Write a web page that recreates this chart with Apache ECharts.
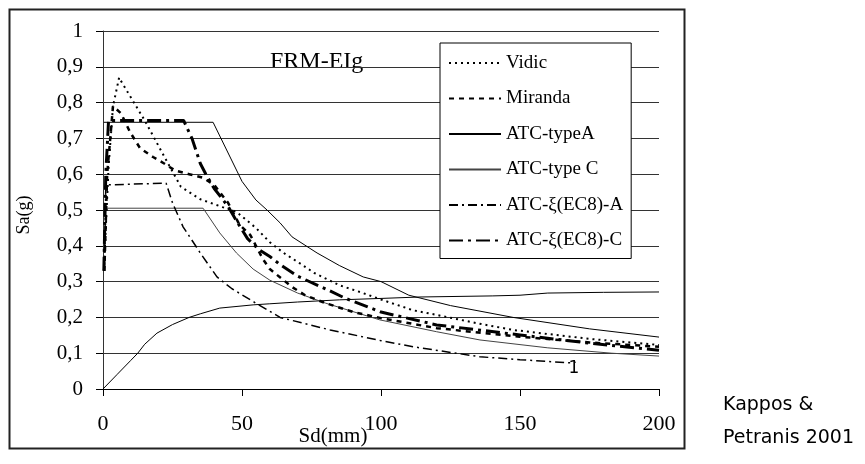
<!DOCTYPE html>
<html><head><meta charset="utf-8">
<script src="https://cdn.jsdelivr.net/npm/echarts@6/dist/echarts.min.js"></script>
<style>html,body{margin:0;padding:0;background:#fff}#c{width:865px;height:464px}</style>
</head><body><div id="c"></div>
<script>
// ---- data (Sd in mm, Sa in g) ----
const xTickValues = [0, 50, 100, 150, 200];
const yTickValues = [0, 0.1, 0.2, 0.3, 0.4, 0.5, 0.6, 0.7, 0.8, 0.9, 1];
const seriesNames = ['Vidic', 'Miranda', 'ATC-typeA', 'ATC-type C', 'ATC-ξ(EC8)-A', 'ATC-ξ(EC8)-C'];

const vidic = [[0.3,0.33],[2,0.62],[3.6,0.79],[5.8,0.87],[6.5,0.86],[15,0.75],[22,0.65],[28,0.565],[35,0.53],[43,0.508],[48,0.495],
  [55,0.45],[60,0.41],[65,0.38],[71,0.35],[76,0.324],[85,0.29],[93.5,0.268],[100,0.25],[111.5,0.22],[120,0.207],[135,0.183],[147.5,0.165],[175,0.14],[200,0.123]];
const miranda = [[0.5,0.33],[1.5,0.6],[3.6,0.79],[6.5,0.77],[9.7,0.718],[13.3,0.673],[18,0.648],[22,0.63],[26,0.61],[31,0.6],[36,0.59],
  [40,0.57],[45,0.52],[49,0.46],[53,0.43],[57.5,0.363],[60,0.335],[64,0.31],[68,0.285],[72.7,0.262],[80,0.24],[90,0.215],[100,0.198],[120,0.17],[150,0.146],[175,0.13],[200,0.118]];
const atcTypeA = [[0.3,0.745],[39.6,0.745],[50,0.58],[55,0.528],[59,0.5],[63.7,0.464],[68,0.425],[77,0.38],[85,0.345],[93.6,0.313],[100,0.3],[110,0.262],[125,0.233],[147.5,0.2],[175,0.168],[200,0.145]];
const atcTypeC = [[0.3,0.505],[36,0.505],[42,0.436],[48,0.38],[54,0.335],[60,0.304],[70,0.268],[80,0.24],[99.6,0.193],[120,0.16],[135.6,0.137],[160,0.115],[183,0.1],[200,0.092]];
const atcEc8A = [[0.5,0.33],[1,0.57],[22.7,0.575],[25,0.52],[28.8,0.453],[35,0.38],[41,0.313],[46.4,0.28],[53,0.249],[63.7,0.2],[81.7,0.165],[100,0.135],[111.5,0.118],[135.6,0.09],[150,0.082],[168,0.073],[170,0.075]];
const atcEc8C = [[0.3,0.33],[1,0.6],[2,0.75],[29,0.75],[32,0.7],[35,0.63],[37,0.6],[40,0.56],[45,0.51],[48,0.47],[52,0.42],[56,0.39],[60,0.37],[64,0.346],[70,0.315],[80,0.28],[87,0.254],[100,0.215],[120,0.179],[150,0.151],[175,0.128],[200,0.108]];
const capacity = [[0,0],[5,0.04],[10,0.08],[12.5,0.1],[15,0.125],[19.4,0.156],[25,0.18],[31,0.2],[35,0.21],[42,0.226],[50,0.232],[54,0.235],[60,0.238],[70,0.243],[85,0.249],[100,0.253],[114,0.257],[140,0.26],[150,0.262],[160,0.268],[180,0.27],[200,0.271]];

const serif = 'Liberation Serif';
function lineSeries(name, data, color, width, type) {
  return { name: name, type: 'line', data: data, symbol: 'none', smooth: false, animation: false,
    lineStyle: { color: color, width: width, type: type }, itemStyle: { color: color } };
}

const chart = echarts.init(document.getElementById('c'), null, { renderer: 'canvas' });
chart.setOption({
  backgroundColor: '#fff',
  animation: false,
  grid: { left: 103, right: 206, top: 31, bottom: 75, containLabel: false },
  xAxis: {
    type: 'value', min: 0, max: 200, interval: 50,
    axisLine: { show: true, onZero: false, lineStyle: { color: '#000', width: 1 } },
    axisTick: { show: true, inside: false, length: 7, lineStyle: { color: '#000' } },
    splitLine: { show: false },
    axisLabel: { margin: 24, color: '#000', fontFamily: serif, fontSize: 22,
      formatter: function (v) { return xTickValues.indexOf(v) >= 0 ? String(v) : ''; } }
  },
  yAxis: {
    type: 'value', min: 0, max: 1, interval: 0.1,
    axisLine: { show: true, lineStyle: { color: '#333', width: 1 } },
    axisTick: { show: true, inside: false, length: 7, lineStyle: { color: '#000' } },
    splitLine: { show: true, lineStyle: { color: '#333', width: 1 } },
    axisLabel: { margin: 20, color: '#000', fontFamily: serif, fontSize: 21,
      formatter: function (v) {
        const r = Math.round(v * 10) / 10;
        return yTickValues.indexOf(r) >= 0 ? (r === 0 || r === 1 ? String(r) : r.toFixed(1).replace('.', ',')) : '';
      } }
  },
  legend: {
    show: true, orient: 'vertical', left: 440, top: 43,
    data: seriesNames,
    backgroundColor: '#fff', borderColor: '#000', borderWidth: 1,
    padding: [10, 8, 8, 8], itemGap: 15.5, itemWidth: 52, itemHeight: 14,
    itemStyle: { opacity: 0 },
    textStyle: { fontFamily: serif, fontSize: 19, color: '#000', lineHeight: 20 },
    selectedMode: false
  },
  series: [
    lineSeries('capacity', capacity, '#000', 1, 'solid'),
    lineSeries('ATC-typeA', atcTypeA, '#000', 1, 'solid'),
    lineSeries('ATC-type C', atcTypeC, '#444', 1, 'solid'),
    lineSeries('ATC-ξ(EC8)-A', atcEc8A, '#000', 1.5, [9, 4, 2, 4]),
    lineSeries('Vidic', vidic, '#000', 2, [2, 4]),
    lineSeries('Miranda', miranda, '#000', 2.5, [5, 5]),
    lineSeries('ATC-ξ(EC8)-C', atcEc8C, '#000', 3, [14, 5, 3, 5])
  ],
  graphic: [
    { type: 'rect', z: -1, silent: true, shape: { x: 9.5, y: 9.5, width: 675, height: 439 },
      style: { fill: 'none', stroke: '#222', lineWidth: 2 } },
    { type: 'text', left: 270, top: 50, silent: true,
      style: { text: 'FRM-EIg', fontFamily: serif, fontSize: 24, fill: '#000' } },
    { type: 'text', x: 24, y: 215, rotation: Math.PI / 2, silent: true,
      style: { text: 'Sa(g)', fontFamily: serif, fontSize: 18, fill: '#000', align: 'center', verticalAlign: 'middle' } },
    { type: 'text', x: 333, y: 436, silent: true,
      style: { text: 'Sd(mm)', fontFamily: serif, fontSize: 21, fill: '#000', align: 'center', verticalAlign: 'middle' } },
    { type: 'text', x: 574, y: 369, silent: true,
      style: { text: '1', fontFamily: 'DejaVu Sans', fontSize: 17, fill: '#000', align: 'center', verticalAlign: 'middle' } },
    { type: 'text', x: 723, y: 405, silent: true,
      style: { text: 'Kappos &', fontFamily: 'DejaVu Sans', fontSize: 19, fill: '#000', align: 'left', verticalAlign: 'middle' } },
    { type: 'text', x: 723, y: 438, silent: true,
      style: { text: 'Petranis 2001', fontFamily: 'DejaVu Sans', fontSize: 19, fill: '#000', align: 'left', verticalAlign: 'middle' } }
  ]
});
</script>
</body></html>
